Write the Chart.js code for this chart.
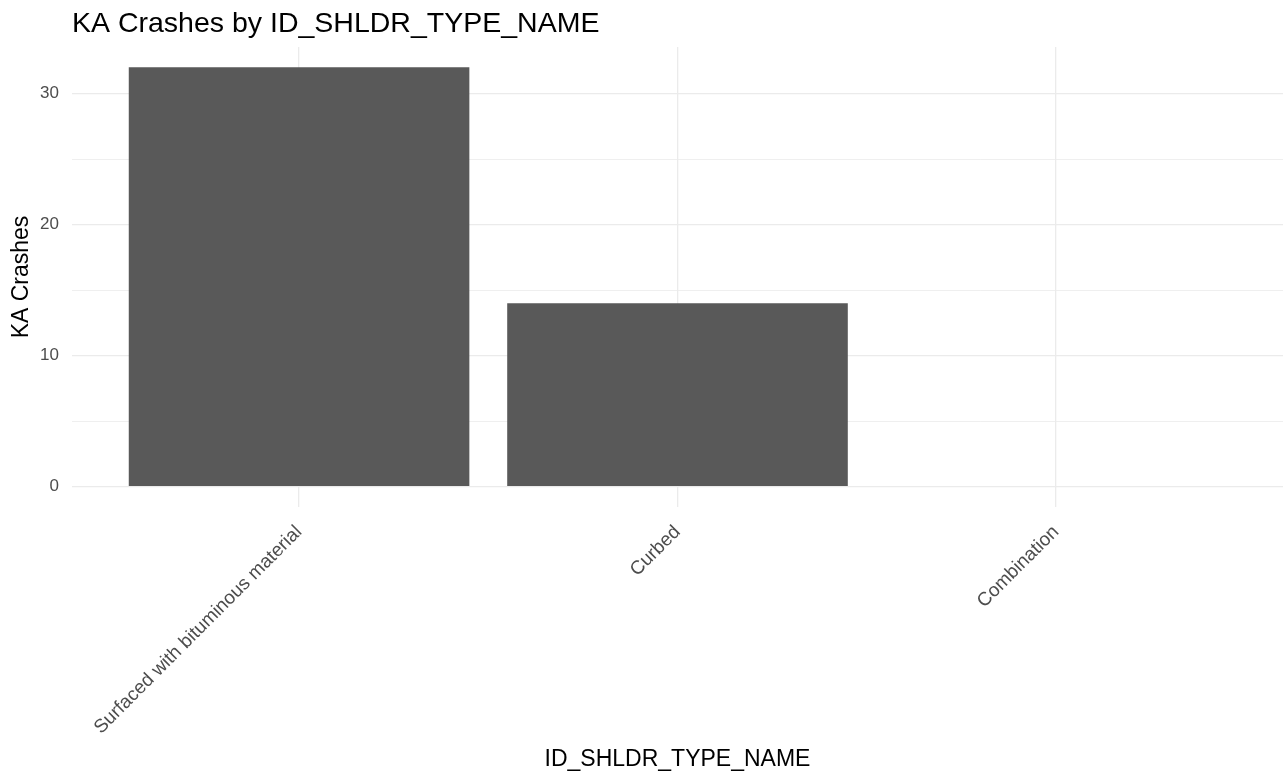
<!DOCTYPE html>
<html>
<head>
<meta charset="utf-8">
<script src="https://cdn.jsdelivr.net/npm/chart.js@4/dist/chart.umd.min.js"></script>
<style>
  html, body { margin: 0; padding: 0; background: #fff; }
  #wrap { width: 1283px; height: 771px; position: relative; }
</style>
</head>
<body>
<div id="wrap"><canvas id="bar-chart"></canvas></div>
<script>
const chartTitle = 'KA Crashes by ID_SHLDR_TYPE_NAME';
const xTitle = 'ID_SHLDR_TYPE_NAME';
const yTitle = 'KA Crashes';
const categories = ['Surfaced with bituminous material', 'Curbed', 'Combination'];
const crashes = [32, 14, 0];
const yTicks = [0, 5, 10, 15, 20, 25, 30];   // labels only on the multiples of 10

const FONT = '"Liberation Sans", Arial, sans-serif';
const GRID = '#EBEBEB';

// ggplot-style title, left aligned with the panel
const titlePlugin = {
  id: 'plotTitle',
  afterDraw(chart) {
    const ctx = chart.ctx;
    ctx.save();
    ctx.font = '28.5px ' + FONT;
    ctx.fillStyle = '#000';
    ctx.textBaseline = 'alphabetic';
    ctx.textAlign = 'left';
    ctx.fillText(chartTitle, chart.chartArea.left, 32);
    ctx.restore();
  }
};

const ctx = document.getElementById('bar-chart').getContext('2d');
new Chart(ctx, {
  type: 'bar',
  data: {
    datasets: [{
      data: categories.map((c, i) => ({ x: i + 1, y: crashes[i] })),
      backgroundColor: '#595959',
      borderWidth: 0,
      barPercentage: 0.9,
      categoryPercentage: 1
    }]
  },
  options: {
    responsive: true,
    maintainAspectRatio: false,
    animation: false,
    layout: { padding: { top: 47, left: 0, right: 0, bottom: 0 } },
    plugins: {
      legend: { display: false },
      tooltip: { enabled: false },
      title: { display: false }
    },
    scales: {
      x: {
        type: 'linear',
        offset: false,
        min: 0.4,
        max: 3.6,
        afterBuildTicks: (axis) => { axis.ticks = categories.map((c, i) => ({ value: i + 1 })); },
        afterFit: (axis) => { axis.height = 264; },
        grid: { color: GRID, lineWidth: 1.3, drawTicks: false, offset: false },
        border: { display: false },
        ticks: {
          autoSkip: false,
          minRotation: 45,
          maxRotation: 45,
          padding: 14,
          color: '#4D4D4D',
          font: { family: FONT, size: 19 },
          callback: (v) => categories[Math.round(v) - 1]
        },
        title: {
          display: true,
          text: xTitle,
          color: '#000',
          font: { family: FONT, size: 23, lineHeight: 1 },
          padding: { top: 0, bottom: 0 }
        }
      },
      y: {
        min: -1.55,
        max: 33.55,
        afterBuildTicks: (axis) => { axis.ticks = yTicks.map(v => ({ value: v })); },
        afterFit: (axis) => { axis.width = 72; },
        grid: {
          color: GRID,
          lineWidth: (c) => (c.tick && c.tick.value % 10 === 0 ? 1.3 : 0.8),
          drawTicks: false
        },
        border: { display: false },
        ticks: {
          padding: 13,
          color: '#4D4D4D',
          font: { family: FONT, size: 17 },
          callback: (v) => (v % 10 === 0 ? String(v) : '')
        },
        title: {
          display: true,
          text: yTitle,
          color: '#000',
          font: { family: FONT, size: 23, lineHeight: 1 },
          padding: { top: 10, bottom: 0 }
        }
      }
    }
  },
  plugins: [titlePlugin]
});
</script>
</body>
</html>
